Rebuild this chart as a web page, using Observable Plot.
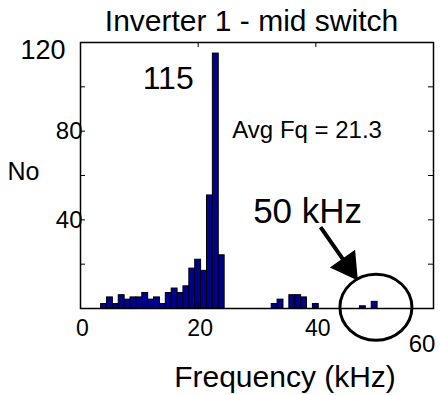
<!DOCTYPE html>
<html>
<head>
<meta charset="utf-8">
<script src="https://cdn.jsdelivr.net/npm/d3@7"></script>
<script src="https://cdn.jsdelivr.net/npm/@observablehq/plot@0.6"></script>
<style>
  html, body { margin: 0; padding: 0; background: white; }
  #chart { width: 441px; height: 395px; }
</style>
</head>
<body>
<div id="chart"></div>
<script>
// Histogram bins (kHz, bin centres) and counts
const freqs  = [4, 5, 6, 7, 8, 9, 10, 11, 12, 13, 14, 15, 16, 17, 18, 19, 20, 21, 22, 23, 24, 33, 34, 36, 37, 38, 40, 48, 50];
const counts = [2, 5, 2, 6, 4, 5, 5, 7, 4, 5, 2, 7, 9, 7, 10, 18, 22, 17, 51, 115, 24, 2, 4, 6, 6, 5, 2, 1, 3];
const binWidth = 1;

// Axis ticks and labels
const xTickLabels = [0, 20, 40];
const xLastLabel = [60];
const yTickLabels = [40, 80];
const yTopLabel = [120];
const yMinorTicks = [20, 40, 60, 80, 100];
const xMinorTicks = [20, 40];

// Texts
const title = ["Inverter 1 - mid switch"];
const xLabel = ["Frequency (kHz)"];
const yLabel = ["No"];
const peakLabel = [{x: 14.9, y: 103.5, text: "115"}];
const avgLabel = [{x: 25.8, y: 80.5, text: "Avg Fq = 21.3"}];
const noteLabel = [{x: 38.6, y: 43.5, text: "50 kHz"}];
const arrow = [{x1: 40.8, y1: 36.7, x2: 45.4, y2: 19.2, tx: 45.4, ty: 19.2}];
const circle = [{x: 50.3, y: 0.3, rx: 6.12, ry: 14.9}];

const bars = freqs.map((f, i) => ({f, n: counts[i]}));
const font = "Liberation Sans, Arial, Helvetica, sans-serif";

const ellipseMark = (index, scales) => {
  const g = document.createElementNS("http://www.w3.org/2000/svg", "g");
  for (const c of circle) {
    const e = document.createElementNS("http://www.w3.org/2000/svg", "ellipse");
    const cx = scales.x(c.x), cy = scales.y(c.y);
    e.setAttribute("cx", cx);
    e.setAttribute("cy", cy);
    e.setAttribute("rx", Math.abs(scales.x(c.x + c.rx) - cx));
    e.setAttribute("ry", Math.abs(scales.y(c.y + c.ry) - cy));
    e.setAttribute("fill", "none");
    e.setAttribute("stroke", "black");
    e.setAttribute("stroke-width", 3);
    g.appendChild(e);
  }
  return g;
};

const chart = Plot.plot({
  width: 441,
  height: 395,
  marginLeft: 80,
  marginRight: 8,
  marginTop: 42,
  marginBottom: 87,
  x: {domain: [0, 60], axis: null},
  y: {domain: [0, 120], axis: null},
  style: {fontFamily: font, background: "white", color: "black", overflow: "visible"},
  marks: [
    Plot.rectY(bars, {x1: d => d.f - binWidth / 2, x2: d => d.f + binWidth / 2, y: "n", fill: "#00008f", stroke: "black", strokeWidth: 1}),
    // inward ticks
    Plot.ruleY(yMinorTicks, {y: d => d, x1: 0, x2: 0.85, stroke: "black"}),
    Plot.ruleY(yMinorTicks, {y: d => d, x1: 59.15, x2: 60, stroke: "black"}),
    Plot.ruleX(xMinorTicks, {x: d => d, y1: 117.7, y2: 120, stroke: "black"}),
    Plot.ruleX(xMinorTicks, {x: d => d, y1: 0, y2: 2.3, stroke: "black"}),
    Plot.frame({stroke: "black", strokeWidth: 1.5}),
    // annotations
    ellipseMark,
    Plot.link(arrow, {x1: "x1", y1: "y1", x2: "x2", y2: "y2", stroke: "black", strokeWidth: 4}),
    Plot.dot(arrow, {x: "tx", y: "ty", symbol: "triangle", r: 10.5, rotate: 144.8, fill: "black", stroke: "black"}),
    Plot.text(peakLabel, {x: "x", y: "y", text: "text", fontSize: 32, fill: "black"}),
    Plot.text(avgLabel, {x: "x", y: "y", text: "text", fontSize: 24, textAnchor: "start", fill: "black"}),
    Plot.text(noteLabel, {x: "x", y: "y", text: "text", fontSize: 35, fill: "black"}),
    // tick labels
    Plot.text(xTickLabels, {x: d => d, frameAnchor: "bottom", lineAnchor: "middle", dy: 20.5, dx: 2, text: d => String(d), fontSize: 23, fill: "black"}),
    Plot.text(xLastLabel, {x: d => d, frameAnchor: "bottom", lineAnchor: "middle", dy: 36, dx: -11.5, text: d => String(d), fontSize: 24, fill: "black"}),
    Plot.text(yTickLabels, {y: d => d, frameAnchor: "left", lineAnchor: "middle", dx: 2, textAnchor: "end", text: d => String(d), fontSize: 24, fill: "black"}),
    Plot.text(yTopLabel, {y: d => d, frameAnchor: "left", lineAnchor: "middle", dx: -15, dy: 8, textAnchor: "end", text: d => String(d), fontSize: 27, fill: "black"}),
    // titles
    Plot.text(title, {frameAnchor: "top", lineAnchor: "middle", textAnchor: "middle", dy: -21, dx: -5.5, text: d => d, fontSize: 30, fill: "black"}),
    Plot.text(xLabel, {frameAnchor: "bottom", lineAnchor: "middle", textAnchor: "middle", dy: 69, dx: 28, text: d => d, fontSize: 30, fill: "black"}),
    Plot.text(yLabel, {frameAnchor: "left", lineAnchor: "middle", textAnchor: "middle", dx: -57, dy: -4, text: d => d, fontSize: 25, fill: "black"})
  ]
});

document.getElementById("chart").appendChild(chart);
</script>
</body>
</html>
